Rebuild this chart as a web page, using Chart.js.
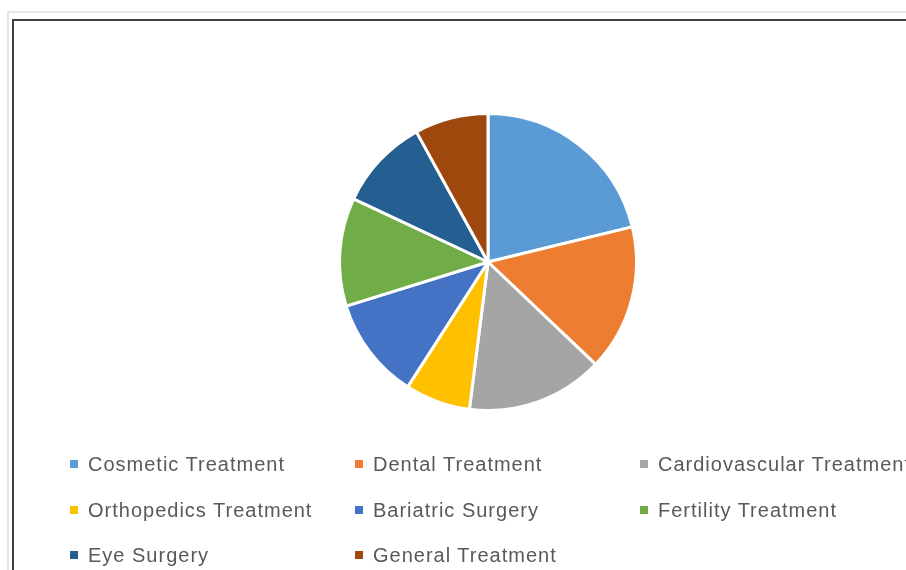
<!DOCTYPE html>
<html>
<head>
<meta charset="utf-8">
<script src="https://cdn.jsdelivr.net/npm/chart.js@4/dist/chart.umd.min.js"></script>
<style>
  html, body { margin: 0; padding: 0; background: #ffffff; }
  body { width: 906px; height: 570px; position: relative; overflow: hidden; }
  #outer { position: absolute; left: 7px; top: 11px; width: 940px; height: 600px; border: 2px solid #e6e6e6; box-sizing: border-box; }
  #frame { position: absolute; left: 12px; top: 19px; width: 940px; height: 600px; border: 2px solid #404040; box-sizing: border-box; }
  #wrap { position: absolute; left: 0; top: 0; width: 906px; height: 570px; }
  .item { position: absolute; font-family: "Liberation Sans", Arial, sans-serif; font-size: 20px; letter-spacing: 1px; color: #595959; white-space: nowrap; line-height: 24px; }
  .sw { position: absolute; width: 8px; height: 8px; left: 0; top: 8px; }
  .lbl { position: absolute; left: 18px; top: 0; }
</style>
</head>
<body>
<div id="outer"></div>
<div id="frame"></div>
<div id="wrap"><canvas id="c" width="906" height="570"></canvas></div>
<div id="legend"></div>
<script>
const categories = [
  "Cosmetic Treatment", "Dental Treatment", "Cardiovascular Treatment",
  "Orthopedics Treatment", "Bariatric Surgery", "Fertility Treatment",
  "Eye Surgery", "General Treatment"
];
const shares = [21.2, 15.9, 14.9, 7.1, 11.1, 11.8, 10.0, 8.0];
const colors = ["#5B9BD5", "#ED7D31", "#A5A5A5", "#FFC000", "#4472C4", "#70AD47", "#255E91", "#9E480E"];

const chart = new Chart(document.getElementById('c'), {
  type: 'pie',
  data: {
    labels: categories,
    datasets: [{
      data: shares,
      backgroundColor: colors,
      borderColor: '#ffffff',
      borderWidth: 3,
      hoverOffset: 0
    }]
  },
  options: {
    responsive: false,
    animation: false,
    layout: { padding: { left: 338, right: 268, top: 112, bottom: 158 } },
    plugins: { legend: { display: false }, tooltip: { enabled: false } }
  }
});

const legend = document.getElementById('legend');
categories.forEach((name, i) => {
  const col = i % 3, row = Math.floor(i / 3);
  const d = document.createElement('div');
  d.className = 'item';
  d.style.left = (70 + col * 285) + 'px';
  d.style.top = (452 + row * 45.5) + 'px';
  const sw = document.createElement('span');
  sw.className = 'sw';
  sw.style.background = colors[i];
  const t = document.createElement('span');
  t.className = 'lbl';
  t.textContent = name;
  d.appendChild(sw); d.appendChild(t);
  legend.appendChild(d);
});
</script>
</body>
</html>
